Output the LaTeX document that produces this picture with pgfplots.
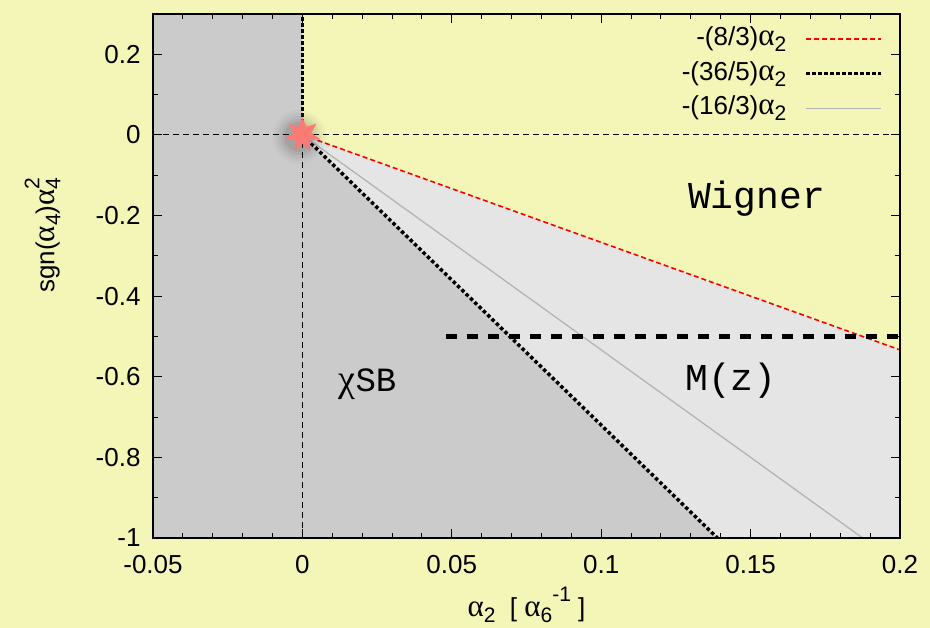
\documentclass[border=0pt]{standalone}
\usepackage{fontspec}
\setmainfont{Liberation Sans}
\newfontfamily\monof{Liberation Mono}
\newfontfamily\greekf{Liberation Serif}
\usepackage{pgfplots}
\pgfplotsset{compat=1.18}
\definecolor{bgy}{RGB}{243,246,183}
\definecolor{dgray}{RGB}{203,203,203}
\definecolor{lgray}{RGB}{229,229,229}
\definecolor{starc}{RGB}{250,122,118}
\definecolor{lineg}{RGB}{180,180,180}
\definecolor{lred}{RGB}{255,0,0}
\newcommand{\al}{{\greekf\fontsize{31pt}{31pt}\selectfont α}}
\newcommand{\sub}[1]{\raisebox{-6pt}{\fontsize{21pt}{21pt}\selectfont #1}}
\newcommand{\sps}[1]{\raisebox{15pt}{\fontsize{21pt}{21pt}\selectfont #1}}
\newcommand{\bigf}{\fontsize{26pt}{26pt}\selectfont}
\pgfdeclareplotmark{star7}{%
\pgfpathmoveto{\pgfpointpolar{90}{\pgfplotmarksize}}%
\pgfpathlineto{\pgfpointpolar{115.714}{0.5\pgfplotmarksize}}%
\pgfpathlineto{\pgfpointpolar{141.429}{\pgfplotmarksize}}%
\pgfpathlineto{\pgfpointpolar{167.143}{0.5\pgfplotmarksize}}%
\pgfpathlineto{\pgfpointpolar{192.857}{\pgfplotmarksize}}%
\pgfpathlineto{\pgfpointpolar{218.571}{0.5\pgfplotmarksize}}%
\pgfpathlineto{\pgfpointpolar{244.286}{\pgfplotmarksize}}%
\pgfpathlineto{\pgfpointpolar{270}{0.5\pgfplotmarksize}}%
\pgfpathlineto{\pgfpointpolar{295.714}{\pgfplotmarksize}}%
\pgfpathlineto{\pgfpointpolar{321.429}{0.5\pgfplotmarksize}}%
\pgfpathlineto{\pgfpointpolar{347.143}{\pgfplotmarksize}}%
\pgfpathlineto{\pgfpointpolar{12.857}{0.5\pgfplotmarksize}}%
\pgfpathlineto{\pgfpointpolar{38.571}{\pgfplotmarksize}}%
\pgfpathlineto{\pgfpointpolar{64.286}{0.5\pgfplotmarksize}}%
\pgfpathclose\pgfusepathqfill}
\pgfdeclareplotmark{softdot}{%
\pgfpathcircle{\pgfpointorigin}{\pgfplotmarksize}\pgfusepathqfill}
\begin{document}
\begin{tikzpicture}
\fill[bgy] (-153pt,-90pt) rectangle (777pt,538pt);
\begin{axis}[
 scale only axis, width=747pt, height=524pt,
 xmin=-0.05, xmax=0.2, ymin=-1, ymax=0.3,
 axis on top,
 xtick={-0.05,0,0.05,0.1,0.15,0.2},
 xticklabels={-0.05,0,0.05,0.1,0.15,0.2},
 ytick={-1,-0.8,-0.6,-0.4,-0.2,0,0.2},
 yticklabels={-1,-0.8,-0.6,-0.4,-0.2,0,0.2},
 minor x tick num=4, minor y tick num=1,
 tick align=inside, major tick length=9pt, minor tick length=5pt,
 axis line style={line width=1.5pt},
 every tick/.style={line width=1pt, black},
 tick label style={font=\bigf},
 label style={font=\bigf},
 xticklabel style={yshift=-14pt},
 yticklabel style={xshift=-9pt},
 xlabel={\al\sub{2}\ \ [ \al\sub{6}\sps{-1} ]},
 xlabel style={at={(axis description cs:0.5,-0.128)}, anchor=center},
 ylabel={sgn(\al\sub{4})\al\rlap{\sub{4}}\sps{2}},
 ylabel style={at={(axis description cs:-0.148,0.578)}, anchor=center},
 legend style={at={(axis description cs:0.9813,0.98)}, anchor=north east, draw=none, fill=none, font=\bigf,
   column sep=18pt, row sep=9.5pt, nodes={inner sep=0pt, text height=19pt, text depth=6pt}},
 legend cell align=right,
 legend plot pos=right,
 legend image code/.code={\draw[#1] (0pt,0pt) -- (75pt,0pt);},
 axis background/.style={fill=bgy},
]
\addplot[fill=dgray, draw=none, forget plot] coordinates {(-0.05,0.3) (0,0.3) (0,0) (0.138889,-1) (-0.05,-1)} -- cycle;
\addplot[fill=lgray, draw=none, forget plot] coordinates {(0,0) (0.2,-0.533333) (0.2,-1) (0.138889,-1)} -- cycle;
\addplot[forget plot, black, line width=1pt, dash pattern=on 6pt off 4pt] coordinates {(-0.05,0) (0.2,0)};
\addplot[forget plot, black, line width=1pt, dash pattern=on 6pt off 4pt] coordinates {(0,-1) (0,0)};
\addplot[forget plot, black, line width=3.5pt, dash pattern=on 3.5pt off 2.5pt] coordinates {(0,0) (0,0.3)};
\addplot[draw=lred, line width=1.6pt, dash pattern=on 5pt off 3pt] coordinates {(0,0) (0.2,-0.533333)};
\addplot[draw=black, line width=3.5pt, dash pattern=on 3.5pt off 2.5pt] coordinates {(0,0) (0.138889,-1)};
\addplot[draw=lineg, line width=1.3pt] coordinates {(0,0) (0.1875,-1)};
\legend{-(8/3)\al\sub{2}, -(36/5)\al\sub{2}, -(16/3)\al\sub{2}}
\addplot[forget plot, black, line width=5pt, dash pattern=on 11pt off 10pt] coordinates {(0.048,-0.5) (0.2,-0.5)};
\addplot[forget plot, only marks, mark=softdot, mark size=27pt, mark options={fill=black, fill opacity=0.025, xshift=-3pt, yshift=-2pt}] coordinates {(0,0)};
\addplot[forget plot, only marks, mark=softdot, mark size=24pt, mark options={fill=black, fill opacity=0.03, xshift=-3pt, yshift=-2pt}] coordinates {(0,0)};
\addplot[forget plot, only marks, mark=softdot, mark size=21pt, mark options={fill=black, fill opacity=0.04, xshift=-3pt, yshift=-2pt}] coordinates {(0,0)};
\addplot[forget plot, only marks, mark=softdot, mark size=18pt, mark options={fill=black, fill opacity=0.05, xshift=-3pt, yshift=-2pt}] coordinates {(0,0)};
\addplot[forget plot, only marks, mark=softdot, mark size=15pt, mark options={fill=black, fill opacity=0.06, xshift=-3pt, yshift=-2pt}] coordinates {(0,0)};
\addplot[forget plot, only marks, mark=star7, mark size=18pt, mark options={fill=starc}] coordinates {(0,0)};
\node[font=\monof\fontsize{38pt}{38pt}\selectfont] at (axis cs:0.152,-0.157) {Wigner};
\node[font=\monof\fontsize{38pt}{38pt}\selectfont] at (axis cs:0.1434,-0.61) {M(z)};
\node[anchor=base] at (axis cs:0.0218,-0.637) {{\greekf\fontsize{38pt}{38pt}\selectfont χ}{\monof\fontsize{34pt}{34pt}\selectfont SB}};
\end{axis}
\pgfresetboundingbox
\path (-153pt,-90pt) rectangle (777pt,538pt);
\end{tikzpicture}
\end{document}
